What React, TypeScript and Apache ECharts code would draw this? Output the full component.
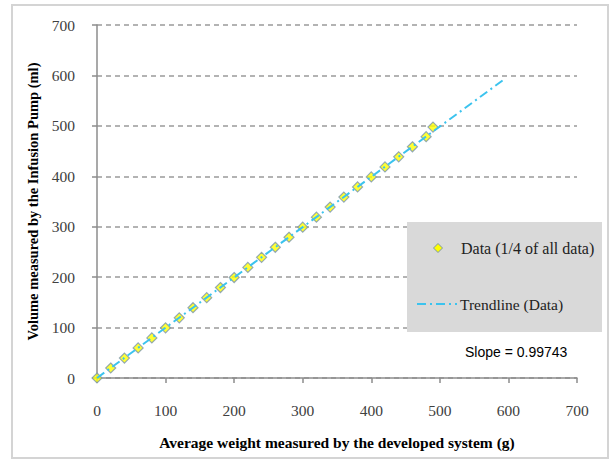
import React, { useEffect, useRef } from "react";
import * as echarts from "echarts";

const weightX = [0, 20, 40, 60, 80, 100, 120, 140, 160, 180, 200, 220, 240, 260, 280, 300, 320, 340, 360, 380, 400, 420, 440, 460, 480, 490];
const volumeY = [0, 19.8, 39.5, 59.6, 79.5, 99.5, 119.3, 139.4, 159.3, 179.4, 199.2, 219.3, 239.2, 259.2, 279.1, 299.1, 318.9, 338.9, 358.8, 378.9, 398.8, 418.6, 438.6, 458.5, 478.6, 497.5];
const trendX = [0, 592];
const trendY = [0, 590.5];
const axisTicks = [0, 100, 200, 300, 400, 500, 600, 700];
const dataName = "Data (1/4 of all data)";
const trendName = "Trendline (Data)";
const slopeText = "Slope = 0.99743";

export default function App() {
  const ref = useRef<HTMLDivElement>(null);
  useEffect(() => {
    if (!ref.current) return;
    const chart = echarts.init(ref.current, null, { renderer: "svg" });
    const serif = "'Liberation Serif', 'Times New Roman', serif";
    const markerFill = "#ffff00";
    const markerBorder = "#7a96ad";
    const trendColor = "#3cc3ee";
    const axisCommon = {
      type: "value",
      min: axisTicks[0],
      max: axisTicks[axisTicks.length - 1],
      interval: 100,
      nameLocation: "middle",
      axisLine: { show: true, lineStyle: { color: "#8c8c8c", width: 1.5 } },
      axisTick: { show: true, inside: false, length: 5, lineStyle: { color: "#8c8c8c", width: 1.5 } },
      splitLine: { show: true, lineStyle: { color: "#9a9a9a", width: 1.5, type: [5, 4] } },
    };
    chart.setOption({
      animation: false,
      backgroundColor: "#fff",
      grid: { left: 97, right: 33, top: 25, bottom: 83 },
      xAxis: {
        ...axisCommon,
        name: "Average weight measured by the developed system (g)",
        nameGap: 56,
        nameTextStyle: { fontFamily: serif, fontWeight: "bold", fontSize: 15.5, color: "#000" },
        splitLine: { show: false },
        axisLabel: { margin: 24, fontFamily: serif, fontSize: 15.5, color: "#404040" },
      },
      yAxis: {
        ...axisCommon,
        name: "Volume measured by the Infusion Pump (ml)",
        nameGap: 54,
        nameTextStyle: { fontFamily: serif, fontWeight: "bold", fontSize: 14.5, color: "#000" },
        axisLabel: { margin: 22, fontFamily: serif, fontSize: 15.5, color: "#404040" },
      },
      graphic: [
        { type: "rect", z: 0, shape: { x: 12, y: 5, width: 596, height: 453 }, style: { fill: "none", stroke: "#d4d4d4", lineWidth: 2 } },
        { type: "rect", z: 10, shape: { x: 407, y: 222, width: 195, height: 110 }, style: { fill: "#d9d9d9" } },
        { type: "polygon", z: 11, shape: { points: [[438, 243.5], [442.5, 248], [438, 252.5], [433.5, 248]] }, style: { fill: markerFill, stroke: markerBorder, lineWidth: 1 } },
        { type: "text", z: 11, x: 461, y: 248, style: { text: dataName, fontFamily: serif, fontSize: 16, fill: "#222", verticalAlign: "middle", align: "left" } },
        { type: "line", z: 11, shape: { x1: 417, y1: 304, x2: 457, y2: 304 }, style: { stroke: trendColor, lineWidth: 2, lineDash: [9, 4, 2, 4] } },
        { type: "text", z: 11, x: 460, y: 304, style: { text: trendName, fontFamily: serif, fontSize: 15.5, fill: "#222", verticalAlign: "middle", align: "left" } },
        { type: "text", z: 11, left: 465, top: 345, style: { text: slopeText, fontFamily: "'Liberation Sans', Arial, sans-serif", fontSize: 14, fill: "#000" } },
      ],
      series: [
        {
          name: dataName,
          type: "scatter",
          symbol: "diamond",
          symbolSize: 10,
          itemStyle: { color: markerFill, borderColor: markerBorder, borderWidth: 1.2 },
          data: weightX.map((x, i) => [x, volumeY[i]]),
          z: 2,
        },
        {
          name: trendName,
          type: "line",
          symbol: "none",
          lineStyle: { color: trendColor, width: 2, type: [9, 4, 2, 4] },
          itemStyle: { color: trendColor },
          data: trendX.map((x, i) => [x, trendY[i]]),
          z: 3,
        },
      ],
    });
    return () => chart.dispose();
  }, []);
  return <div ref={ref} style={{ position: "fixed", left: 0, top: 0, width: 610, height: 461 }} />;
}
